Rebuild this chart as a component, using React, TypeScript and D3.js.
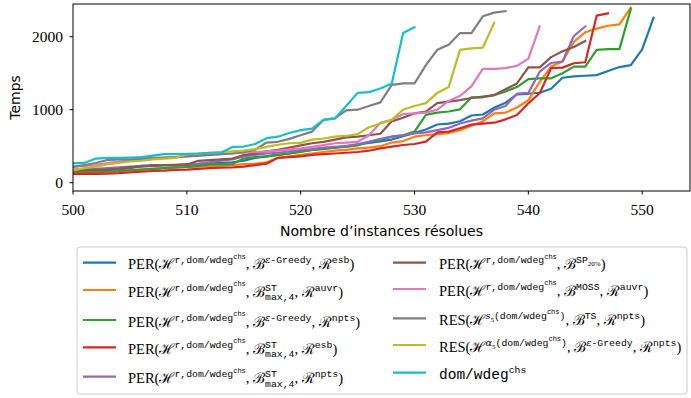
import React from "react";
import * as d3 from "d3";

const X_START = 500;
const xTicks = [500, 510, 520, 530, 540, 550];
const yTicks = [0, 1000, 2000];

const blueVals = [150,155,160,170,180,200,230,240,240,240,245,250,260,270,280,300,340,360,380,400,430,450,470,480,500,520,545,567,591,636,683,728,797,810,842,920,934,1026,1095,1210,1218,1232,1287,1438,1456,1465,1474,1529,1584,1611,1827,2262];
const orangeVals = [130,140,145,150,160,170,180,190,200,210,215,220,230,235,240,255,260,280,340,360,380,400,420,440,450,470,480,500,550,570,630,650,665,680,720,780,840,950,960,1030,1130,1380,1590,1660,1930,2060,2110,2150,2170,2400];
const greenVals = [150,150,150,155,160,170,180,190,200,210,215,230,250,250,255,330,350,360,380,400,420,450,460,480,490,510,560,585,630,650,700,930,960,975,1005,1170,1170,1200,1250,1310,1420,1430,1430,1500,1590,1590,1820,1830,1830,2380];
const redVals = [120,120,120,125,130,140,150,160,165,175,180,190,200,205,210,220,240,260,340,350,360,380,390,400,410,420,438,471,493,516,530,562,690,699,745,795,808,822,868,927,1088,1225,1570,1576,1636,1650,2288,2320];
const purpleVals = [180,185,190,200,210,220,230,230,240,240,250,260,280,300,320,360,380,400,410,430,450,460,480,490,500,530,560,600,630,650,675,690,720,750,810,850,880,1000,1050,1220,1230,1520,1640,1660,2010,2140];
const brownVals = [160,170,175,180,190,210,220,230,240,245,250,300,310,320,330,380,400,430,450,480,510,540,560,590,620,630,650,670,840,890,950,975,1090,1110,1130,1160,1180,1200,1280,1360,1580,1580,1720,1800,1860,1940];
const pinkVals = [220,230,240,270,290,310,320,330,340,350,360,370,380,390,400,410,420,430,440,455,470,490,515,540,550,560,650,820,860,940,950,960,1000,1120,1190,1320,1560,1560,1570,1600,1700,2140];
const grayVals = [215,240,270,310,320,320,330,340,345,350,360,370,380,390,400,420,450,550,560,600,650,700,860,880,990,1000,1050,1100,1340,1360,1360,1610,1820,1890,2050,2050,2280,2330,2350];
const oliveVals = [170,200,220,250,270,290,300,320,330,340,390,400,410,420,430,440,460,490,520,540,545,590,605,630,640,665,760,810,860,1000,1050,1090,1230,1310,1820,1840,1850,2190];
const cyanVals = [265,270,330,340,340,345,350,370,390,390,395,400,410,410,490,495,530,610,630,680,720,740,860,880,1050,1230,1240,1290,1360,2050,2130];

const seriesColors = ["#1f77b4","#ff7f0e","#2ca02c","#d62728","#9467bd","#8c564b","#e377c2","#7f7f7f","#bcbd22","#17becf"];
const seriesValues = [blueVals, orangeVals, greenVals, redVals, purpleVals, brownVals, pinkVals, grayVals, oliveVals, cyanVals];

// legend label segments: [text, style, level]
type Seg = [string, string, number];
const Hr: Seg[] = [["ℋ","cal",0],["r,dom/wdeg","tt",1],["chs","tt",2]];
const Beps: Seg[] = [["ℬ","cal",0],["ε","it",1],["-Greedy","tt",1]];
const Bst: Seg[] = [["ℬ","cal",0],["max,4","tt",-1],["ST","tt",1]];
const R = (s: string): Seg[] => [["ℛ","cal",0],[s,"tt",1]];
const C: Seg[] = [[", ","rm",0]];
const labelSegs: Seg[][] = [
  [["PER(","rm",0],...Hr,...C,...Beps,...C,...R("esb"),[")","rm",0]],
  [["PER(","rm",0],...Hr,...C,...Bst,...C,...R("auvr"),[")","rm",0]],
  [["PER(","rm",0],...Hr,...C,...Beps,...C,...R("npts"),[")","rm",0]],
  [["PER(","rm",0],...Hr,...C,...Bst,...C,...R("esb"),[")","rm",0]],
  [["PER(","rm",0],...Hr,...C,...Bst,...C,...R("npts"),[")","rm",0]],
  [["PER(","rm",0],...Hr,...C,["ℬ","cal",0],["SP","tt",1],["20%","rm",3],[")","rm",0]],
  [["PER(","rm",0],...Hr,...C,["ℬ","cal",0],["MOSS","tt",1],...C,...R("auvr"),[")","rm",0]],
  [["RES(","rm",0],["ℋ","cal",0],["s","it",1],["5","rm",3],["(dom/wdeg","tt",1],["chs","tt",2],[")","tt",1],...C,["ℬ","cal",0],["TS","tt",1],...C,...R("npts"),[")","rm",0]],
  [["RES(","rm",0],["ℋ","cal",0],["α","it",1],["5","rm",3],["(dom/wdeg","tt",1],["chs","tt",2],[")","tt",1],...C,...Beps,...C,...R("npts"),[")","rm",0]],
  [["dom/wdeg","tt",0],["chs","tt",1]],
];

const W = 691, H = 398;
const ML = 73, MR = 690, MT = 4, MB = 191;

const levelSize: Record<number, number> = { 0: 14.5, 1: 9.8, 2: 7, 3: 7, [-1]: 9.8 };
const levelDy: Record<number, number> = { 0: 0, 1: -6, 2: -10.5, 3: -3, [-1]: 3.5 };
const fontFor: Record<string, string> = {
  rm: "Liberation Serif, DejaVu Serif, serif",
  tt: "Liberation Mono, DejaVu Sans Mono, monospace",
  cal: "DejaVu Serif, serif",
  it: "DejaVu Serif, serif",
};

function Label({ x, y, segs }: { x: number; y: number; segs: Seg[] }) {
  return (
    <text x={x} y={y} fill="#000">
      {segs.map((s, i) => {
        const [t, st, lv] = s;
        let dx = 0;
        if (t === "ST" && segs[i - 1] && segs[i - 1][0] === "max,4") {
          dx = -5 * 0.6 * levelSize[-1];
        }
        const prev = segs[i - 1];
        if (prev && prev[0] === "ST") {
          dx = 5 * 0.6 * levelSize[-1] - 2 * 0.6 * levelSize[1];
        }
        return (
          <tspan key={i} y={y + levelDy[lv]} dx={dx} fontFamily={fontFor[st]} fontSize={levelSize[lv]} fontStyle={st === "it" ? "italic" : "normal"}>
            {t}
          </tspan>
        );
      })}
    </text>
  );
}

export default function App() {
  const x = d3.scaleLinear().domain([500, 554.2]).range([ML, MR]);
  const y = d3.scaleLinear().domain([-114, 2448]).range([MB, MT]);
  const line = d3.line<number>().x((_, i) => x(X_START + i)).y((v) => y(v));

  const leftRows = [262.7, 290, 320, 347.3, 376.7];
  const rightRows = [262.7, 289, 318.3, 345, 372.7];

  return (
    <svg width={W} height={H} style={{ position: "absolute", left: 0, top: 0, background: "#fff" }}>
      <defs>
        <clipPath id="plot">
          <rect x={ML} y={MT} width={MR - ML} height={MB - MT} />
        </clipPath>
      </defs>
      <g clipPath="url(#plot)">
        {seriesValues.map((vals, k) => (
          <path key={k} d={line(vals) || ""} fill="none" stroke={seriesColors[k]} strokeWidth={2.2} strokeLinejoin="round" strokeLinecap="square" />
        ))}
      </g>
      <rect x={ML} y={MT} width={MR - ML} height={MB - MT} fill="none" stroke="#000" strokeWidth={1} />
      {xTicks.map((t) => (
        <g key={t}>
          <line x1={x(t)} x2={x(t)} y1={MB} y2={MB + 3.5} stroke="#000" />
          <text x={x(t)} y={215} textAnchor="middle" fontFamily="Liberation Serif, serif" fontSize={15.5}>{t}</text>
        </g>
      ))}
      {yTicks.map((t) => (
        <g key={t}>
          <line x1={ML - 3.5} x2={ML} y1={y(t)} y2={y(t)} stroke="#000" />
          <text x={63} y={y(t) + 5} textAnchor="end" fontFamily="Liberation Serif, serif" fontSize={15.5}>{t}</text>
        </g>
      ))}
      <text x={(ML + MR) / 2} y={236} textAnchor="middle" fontFamily="DejaVu Sans, sans-serif" fontSize={14}>Nombre d’instances résolues</text>
      <text transform={`translate(20,${(MT + MB) / 2}) rotate(-90)`} textAnchor="middle" fontFamily="DejaVu Sans, sans-serif" fontSize={14}>Temps</text>

      <rect x={77} y={247} width={610} height={147} rx={3} fill="#fff" stroke="#cccccc" strokeWidth={1} />
      {labelSegs.map((segs, k) => {
        const left = k < 5;
        const ry = left ? leftRows[k] : rightRows[k - 5];
        const hx = left ? 83 : 393;
        const tx = left ? 128 : 439;
        return (
          <g key={k}>
            <line x1={hx} x2={hx + 33} y1={ry} y2={ry} stroke={seriesColors[k]} strokeWidth={2.2} />
            <Label x={tx} y={ry + 6.6} segs={segs} />
          </g>
        );
      })}
    </svg>
  );
}
